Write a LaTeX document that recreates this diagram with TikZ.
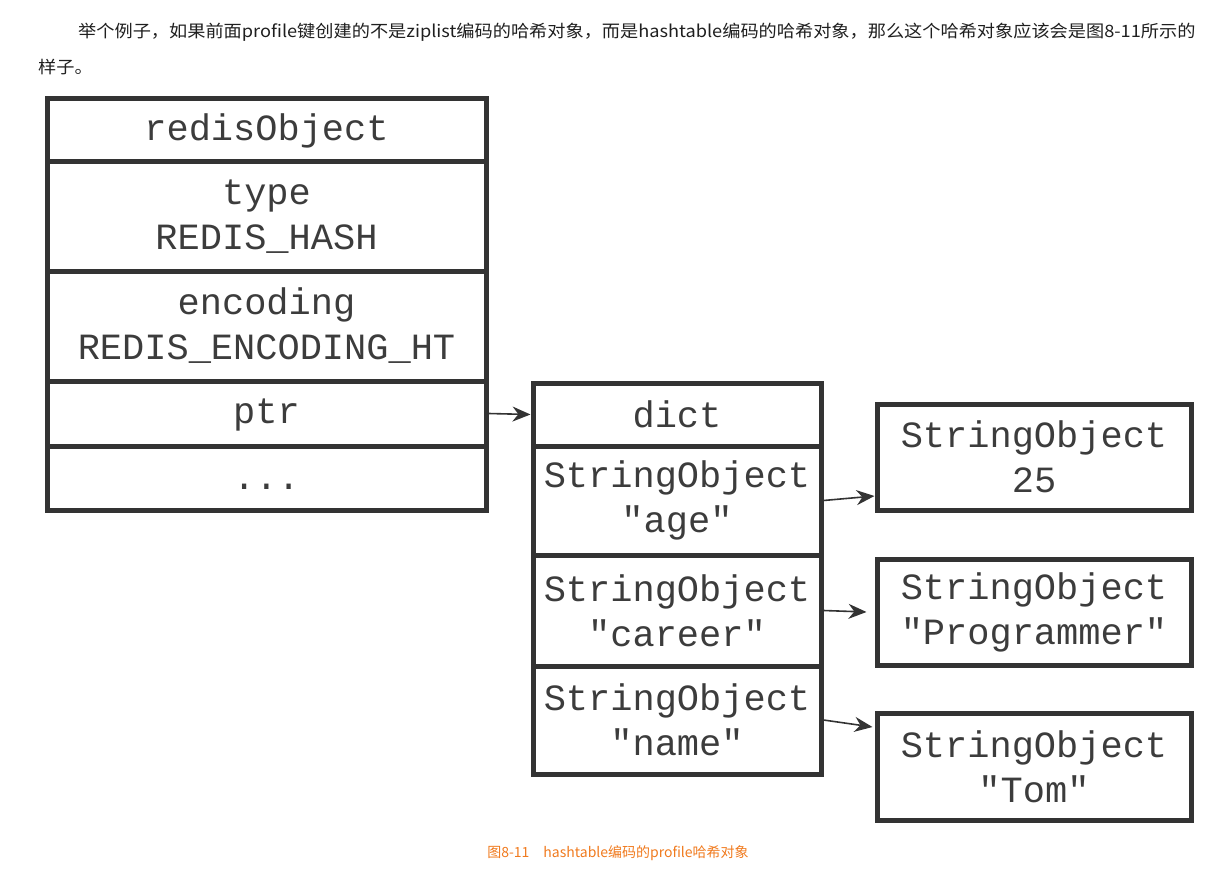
\documentclass[tikz,border=0pt]{standalone}
\usepackage{fontspec}
\setmonofont{Liberation Mono}
\newfontfamily\cjk{Noto Sans CJK SC}
\usetikzlibrary{arrows.meta}
\definecolor{boxline}{HTML}{333333}
\definecolor{boxtext}{HTML}{3C3C3C}
\definecolor{captionorange}{HTML}{F07A1E}
\tikzset{
  cell/.style={draw=boxline, line width=5pt, inner sep=0pt, rectangle,
    text=boxtext, align=center, font=\ttfamily\fontsize{37}{45}\selectfont},
  oneline/.style={text height=28pt, text depth=9pt},
  ptrarrow/.style={draw=boxline, line width=1.6pt, -{Stealth[length=18pt,width=15pt]}},
  para/.style={anchor=west, inner sep=0pt, text=black!88, font=\cjk\fontsize{17}{20}\selectfont},
}
\begin{document}
\begin{tikzpicture}[x=1pt,y=-1pt]
\useasboundingbox (0,0) rectangle (1211,880);
% top paragraph
\node[para] (para1) at (78,32)
  {\scalebox{1.07}[1]{举个例子，如果前面profile键创建的不是ziplist编码的哈希对象，而是hashtable编码的哈希对象，那么这个哈希对象应该会是图8-11所示的}};
\node[para] (para2) at (38,67) {\scalebox{1.07}[1]{样子。}};
% left box: redisObject
\node[cell, minimum width=439pt, minimum height=63pt] (ro) at (266.5,130.5) {redisObject};
\node[cell, minimum width=439pt, minimum height=109pt] (type) at (266.5,216.5) {type\\REDIS\_HASH};
\node[cell, minimum width=439pt, minimum height=110pt] (enc) at (266.5,326) {encoding\\REDIS\_ENCODING\_HT};
\node[cell, oneline, minimum width=439pt, minimum height=65pt] (ptr) at (266.5,413.5) {ptr};
\node[cell, text height=28pt, text depth=5pt, minimum width=439pt, minimum height=64pt] (more) at (266.5,478) {...};
% middle box: dict
\node[cell, minimum width=288pt, minimum height=63pt] (dict) at (677,414.5) {dict};
\node[cell, minimum width=288pt, minimum height=109pt] (age) at (677,500.5) {StringObject\\"age"};
\node[cell, minimum width=288pt, minimum height=111pt] (career) at (677,610.5) {StringObject\\"career"};
\node[cell, minimum width=288pt, minimum height=108pt] (name) at (677,720) {StringObject\\"name"};
% right boxes: values
\node[cell, minimum width=314pt, minimum height=106pt] (v1) at (1034,457) {StringObject\\25};
\node[cell, minimum width=314pt, minimum height=106pt] (v2) at (1034,612) {StringObject\\"Programmer"};
\node[cell, minimum width=314pt, minimum height=107pt] (v3) at (1034,766.5) {StringObject\\"Tom"};
% connectors
\draw[ptrarrow] (ptr.east) -- (dict.west);
\draw[ptrarrow] (age.east) -- ([yshift=-39pt]v1.west);
\draw[ptrarrow] (career.east) -- ([xshift=-8pt]v2.west);
\draw[ptrarrow] (name.east) -- ([yshift=39.5pt,xshift=-2pt]v3.west);
% caption
\node[inner sep=0pt, text=captionorange, font=\cjk\fontsize{14}{16}\selectfont] (cap) at (618,853)
  {图8-11\hspace{1em}hashtable编码的profile哈希对象};
\end{tikzpicture}
\end{document}
